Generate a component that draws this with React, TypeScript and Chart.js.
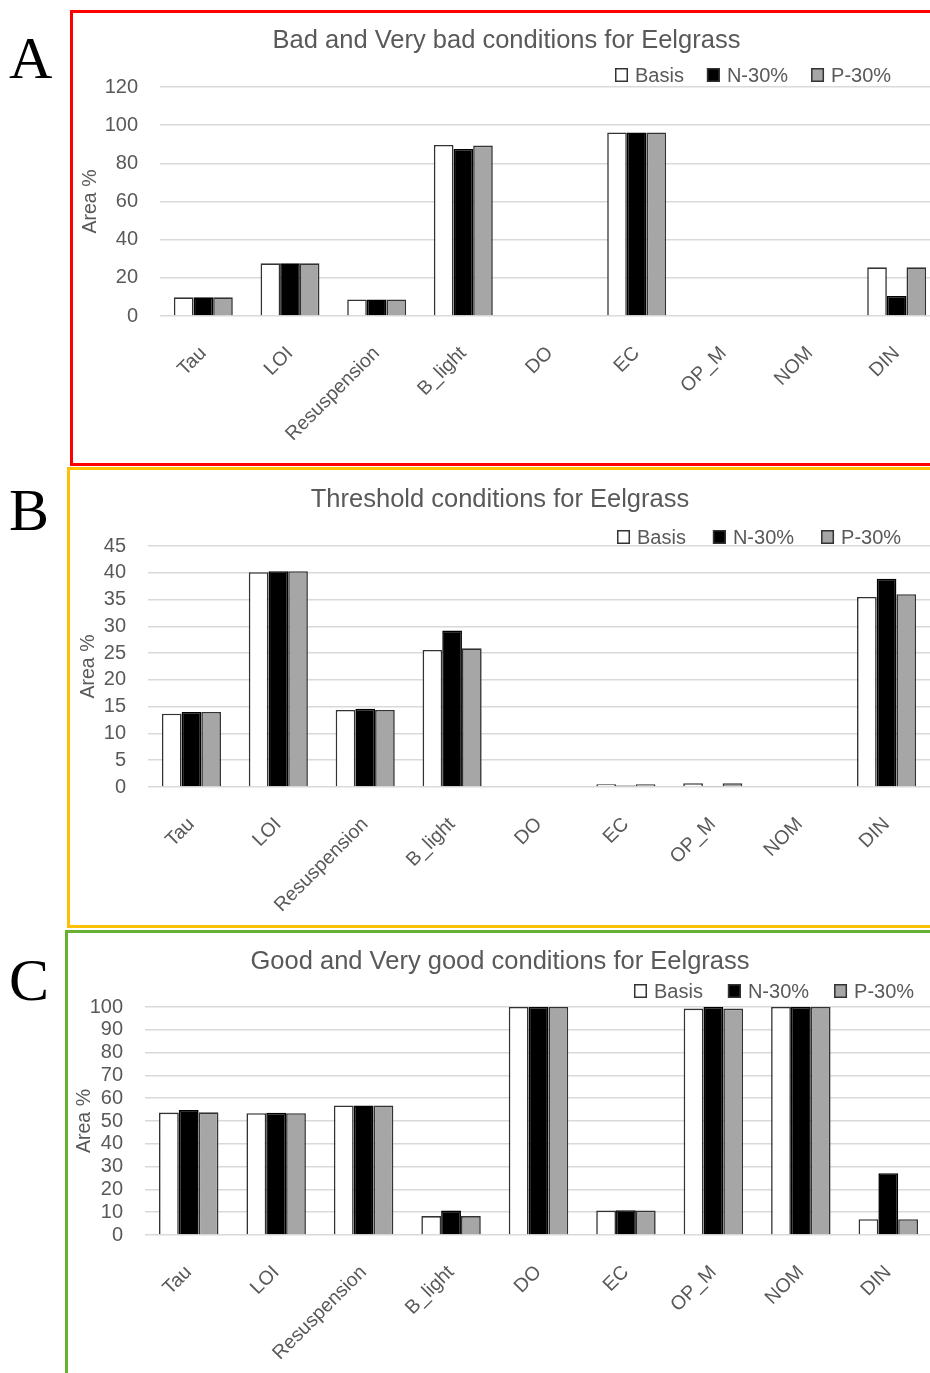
import React, { useEffect, useRef } from 'react';
import { Chart, registerables } from 'chart.js';

Chart.register(...registerables);

const FONT = "'Liberation Sans', Arial, sans-serif";
const TEXT = '#595959';

const categories = ['Tau', 'LOI', 'Resuspension', 'B_light', 'DO', 'EC', 'OP_M', 'NOM', 'DIN'];
const seriesNames = ['Basis', 'N-30%', 'P-30%'];
const seriesFill = ['#ffffff', '#000000', '#a6a6a6'];

// A: Bad and Very bad conditions
const badBasis = [9.8, 27.6, 8.7, 89.6, 0, 96.2, 0, 0, 25.5];
const badN30 = [9.8, 27.6, 8.7, 87.5, 0, 96.2, 0, 0, 10.5];
const badP30 = [9.8, 27.6, 8.7, 89.3, 0, 96.2, 0, 0, 25.5];

// B: Threshold conditions
const thrBasis = [13.7, 40.1, 14.4, 25.6, 0, 0.5, 0.7, 0, 35.5];
const thrN30 = [14.0, 40.3, 14.6, 29.2, 0, 0.3, 0.1, 0, 38.9];
const thrP30 = [14.0, 40.3, 14.4, 25.9, 0, 0.5, 0.7, 0, 36.0];

// C: Good and Very good conditions
const goodBasis = [53.7, 53.4, 56.8, 8.3, 100, 10.7, 99.3, 100, 6.9];
const goodN30 = [54.8, 53.6, 56.8, 10.7, 100, 10.9, 100, 100, 27.1];
const goodP30 = [53.8, 53.4, 56.8, 8.3, 100, 10.7, 99.3, 100, 6.9];

const yTicksA = { max: 120, step: 20 };
const yTicksB = { max: 45, step: 5 };
const yTicksC = { max: 100, step: 10 };

const legendPlugin = {
  id: 'customLegend',
  afterDraw(chart: any, _args: any, opts: any) {
    const { ctx } = chart;
    ctx.save();
    ctx.font = `${opts.size}px ${FONT}`;
    ctx.textBaseline = 'middle';
    ctx.textAlign = 'left';
    let x = opts.x;
    const y = opts.y;
    chart.data.datasets.forEach((ds: any) => {
      ctx.fillStyle = ds.backgroundColor;
      ctx.fillRect(x, y - 7, 13, 14);
      ctx.lineWidth = 1.5;
      ctx.strokeStyle = '#333333';
      ctx.strokeRect(x + 0.75, y - 7 + 0.75, 11.5, 12.5);
      ctx.fillStyle = TEXT;
      ctx.fillText(ds.label, x + 13 + 7, y + 1);
      x += 13 + 7 + ctx.measureText(ds.label).width + opts.gap;
    });
    ctx.restore();
  },
};

type PanelProps = {
  left: number; top: number; width: number; height: number;
  title: string; series: number[][]; yMax: number; yStep: number;
  titlePadTop: number; titlePadBottom: number;
  yWidth: number; yTitlePad: number; xHeight: number;
  legendX: number; legendY: number; legendGap: number;
};

function Panel(p: PanelProps) {
  const ref = useRef<HTMLCanvasElement>(null);
  useEffect(() => {
    const chart = new Chart(ref.current as HTMLCanvasElement, {
      type: 'bar',
      data: {
        labels: categories,
        datasets: p.series.map((vals, i) => ({
          label: seriesNames[i],
          data: vals,
          backgroundColor: seriesFill[i],
          borderColor: i === 1 ? '#000000' : '#333333',
          borderWidth: 1.6,
          categoryPercentage: 0.68,
          barPercentage: 1.0,
        })),
      },
      options: {
        animation: false,
        responsive: false,
        maintainAspectRatio: false,
        layout: { padding: 0 },
        plugins: {
          legend: { display: false },
          tooltip: { enabled: false },
          title: {
            display: true,
            text: p.title,
            color: TEXT,
            font: { family: FONT, size: 25.5, weight: 'normal' },
            padding: { top: p.titlePadTop, bottom: p.titlePadBottom },
          },
          customLegend: { x: p.legendX, y: p.legendY, gap: p.legendGap, size: 20 },
        } as any,
        scales: {
          x: {
            grid: { display: false },
            border: { display: false },
            ticks: {
              maxRotation: 45,
              minRotation: 45,
              autoSkip: false,
              padding: 18,
              color: TEXT,
              font: { family: FONT, size: 19.5 },
            },
            afterFit: (s: any) => { s.height = p.xHeight; },
          },
          y: {
            min: 0,
            max: p.yMax,
            ticks: {
              stepSize: p.yStep,
              autoSkip: false,
              padding: 22,
              color: TEXT,
              font: { family: FONT, size: 20 },
            },
            grid: { color: '#d9d9d9', lineWidth: 1.5, drawTicks: false },
            border: { display: false },
            title: {
              display: true,
              text: 'Area %',
              color: TEXT,
              font: { family: FONT, size: 19.5 },
              padding: { top: p.yTitlePad, bottom: 0 },
            },
            afterFit: (s: any) => { s.width = p.yWidth; },
          },
        },
      },
      plugins: [legendPlugin],
    });
    return () => chart.destroy();
  }, []);
  return (
    <canvas
      ref={ref}
      width={p.width}
      height={p.height}
      style={{ position: 'absolute', left: p.left, top: p.top, width: p.width, height: p.height }}
    />
  );
}

const letterStyle: React.CSSProperties = {
  position: 'absolute',
  fontFamily: "'Liberation Serif', 'Times New Roman', serif",
  fontSize: 60,
  lineHeight: 1,
  color: '#000',
};

export default function App() {
  return (
    <div style={{ position: 'fixed', left: 0, top: 0, width: 930, height: 1373, overflow: 'hidden', background: '#fff' }}>
      <div style={{ position: 'absolute', left: 70, top: 10, width: 900, height: 456, border: '3px solid #ff0000', boxSizing: 'border-box' }} />
      <div style={{ position: 'absolute', left: 67, top: 467, width: 900, height: 461, border: '3px solid #ffc000', boxSizing: 'border-box' }} />
      <div style={{ position: 'absolute', left: 65, top: 930, width: 900, height: 500, border: '3px solid #66b032', boxSizing: 'border-box' }} />

      <div style={{ ...letterStyle, left: 9, top: 28 }}>A</div>
      <div style={{ ...letterStyle, left: 9, top: 480 }}>B</div>
      <div style={{ ...letterStyle, left: 9, top: 950 }}>C</div>

      <Panel
        left={73} top={13} width={867} height={450}
        title="Bad and Very bad conditions for Eelgrass"
        series={[badBasis, badN30, badP30]}
        yMax={yTicksA.max} yStep={yTicksA.step}
        titlePadTop={12.7} titlePadBottom={30.7}
        yWidth={87} yTitlePad={5.6} xHeight={147}
        legendX={542} legendY={62} legendGap={23}
      />
      <Panel
        left={70} top={470} width={860} height={456}
        title="Threshold conditions for Eelgrass"
        series={[thrBasis, thrN30, thrP30]}
        yMax={yTicksB.max} yStep={yTicksB.step}
        titlePadTop={14.7} titlePadBottom={30.7}
        yWidth={78} yTitlePad={6.6} xHeight={139}
        legendX={547} legendY={67} legendGap={27}
      />
      <Panel
        left={68} top={933} width={864} height={440}
        title="Good and Very good conditions for Eelgrass"
        series={[goodBasis, goodN30, goodP30]}
        yMax={yTicksC.max} yStep={yTicksC.step}
        titlePadTop={13.7} titlePadBottom={29.7}
        yWidth={77} yTitlePad={5.1} xHeight={138}
        legendX={566} legendY={58} legendGap={25}
      />
    </div>
  );
}
